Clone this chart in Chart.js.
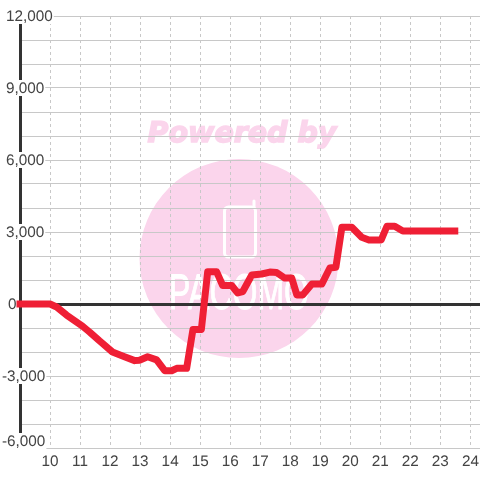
<!DOCTYPE html>
<html>
<head>
<meta charset="utf-8">
<style>
  html, body { margin: 0; padding: 0; background: #fff; }
  canvas { display: block; }
</style>
<script src="https://cdn.jsdelivr.net/npm/chart.js@4"></script>
</head>
<body>
<canvas id="profitChart" width="480" height="480"></canvas>
<script>
const hours = [9, 10, 10.22, 10.55, 11.08, 11.32, 11.65, 12.08, 12.48, 12.82, 12.98, 13.25, 13.55, 13.82,
    14.05, 14.22, 14.55, 14.76, 15.04, 15.25, 15.55, 15.75, 16.05, 16.25, 16.42, 16.72, 17.05, 17.32, 17.55,
    17.82, 18.05, 18.22, 18.42, 18.72, 19.05, 19.32, 19.52, 19.72, 20.05, 20.38, 20.62, 21.03, 21.22, 21.48,
    21.75, 23.48];
const profit = [0, 0, -125, -460, -920, -1170, -1540, -2000, -2200, -2360, -2340, -2200, -2330, -2780,
    -2780, -2680, -2680, -1060, -1060, 1340, 1340, 770, 770, 460, 520, 1210, 1250, 1330, 1310,
    1080, 1080, 380, 380, 830, 830, 1500, 1530, 3200, 3200, 2780, 2670, 2670, 3240, 3240,
    3040, 3040];
const yTickValues = [12000, 9000, 6000, 3000, 0, -3000, -6000];
const yTickLabels = ['12,000', '9,000', '6,000', '3,000', '0', '-3,000', '-6,000'];

const labelFont = '15.3px "Liberation Sans"';

// pink logo sits behind everything, gridlines run over it
const watermark = {
    id: 'watermark',
    beforeDraw(chart) {
        const c = chart.ctx;
        c.textRendering = 'geometricPrecision';
        c.save();
        c.fillStyle = '#fbd5ec';
        c.beginPath();
        c.arc(239, 258.5, 99.5, 0, Math.PI * 2);
        c.fill();
        c.font = 'italic bold 28.5px "DejaVu Sans"';
        c.textAlign = 'center';
        c.textBaseline = 'middle';
        c.strokeStyle = '#fbd5ec';
        c.lineWidth = 1.5;
        c.fillText('Powered by', 242, 135);
        c.strokeText('Powered by', 242, 135);
        c.strokeStyle = '#fff';
        c.lineWidth = 3;
        c.lineCap = 'round';
        c.beginPath();
        c.roundRect(224.5, 207, 31, 50, 4);
        c.stroke();
        c.beginPath();
        c.moveTo(254, 207);
        c.lineTo(254, 201);
        c.stroke();
        c.fillStyle = '#fff';
        c.lineWidth = 1;
        c.translate(239, 0);
        c.scale(0.64, 1);
        c.textBaseline = 'alphabetic';
        c.font = '50px "Liberation Sans"';
        c.fillText('PACOMO', 0, 309);
        c.strokeText('PACOMO', 0, 309);
        c.restore();
    }
};

// y labels sit on a white box that cuts the axis and gridlines
const yLabels = {
    id: 'yLabels',
    afterDatasetsDraw(chart) {
        const c = chart.ctx;
        const scale = chart.scales.y;
        c.save();
        c.font = labelFont;
        c.textBaseline = 'middle';
        c.textAlign = 'left';
        yTickValues.forEach(function(v, i) {
            const text = yTickLabels[i];
            const w = c.measureText(text).width;
            const x = v < 0 ? 2 : (v === 0 ? 8 : 6);
            let y = scale.getPixelForValue(v);
            if (v === -6000) y -= 7;
            if (v !== 0) {
                c.fillStyle = '#fff';
                c.fillRect(x - 1, y - 8, w + 2, 16);
            }
            c.fillStyle = '#444';
            c.fillText(text, x, y + 1);
        });
        c.restore();
    }
};

const chart = new Chart(document.getElementById('profitChart').getContext('2d'), {
    type: 'line',
    data: {
        datasets: [{
            data: hours.map(function(h, i) { return { x: h, y: profit[i] }; }),
            borderColor: '#ef1f35',
            borderWidth: 7,
            borderCapStyle: 'square',
            borderJoinStyle: 'round',
            pointRadius: 0,
            tension: 0,
            clip: false
        }]
    },
    options: {
        responsive: false,
        animation: false,
        layout: { padding: { left: 20, top: 16, right: 0, bottom: 0 } },
        plugins: { legend: { display: false }, tooltip: { enabled: false } },
        scales: {
            x: {
                type: 'linear',
                min: 9,
                max: 24.32,
                afterFit: function(scale) {
                    scale.height = 32;
                    scale.paddingLeft = 0;
                    scale.paddingRight = 0;
                },
                grid: { color: '#c8c8c8', lineWidth: 1, drawTicks: false },
                border: { display: false, dash: [3, 3] },
                ticks: {
                    stepSize: 1,
                    includeBounds: false,
                    maxRotation: 0,
                    autoSkip: false,
                    padding: 5,
                    color: '#444',
                    font: { family: 'Liberation Sans', size: 15.3 },
                    callback: function(v) { return v === 9 ? '' : String(v); }
                }
            },
            y: {
                min: -6000,
                max: 12000,
                afterFit: function(scale) { scale.width = 0; },
                grid: {
                    color: function(ctx) { return ctx.tick && ctx.tick.value === 0 ? '#333' : '#c8c8c8'; },
                    lineWidth: function(ctx) { return ctx.tick && ctx.tick.value === 0 ? 3 : 1; },
                    drawTicks: false
                },
                border: { color: '#333', width: 3 },
                ticks: { display: false, stepSize: 1000 }
            }
        }
    },
    plugins: [watermark, yLabels]
});
</script>
</body>
</html>
